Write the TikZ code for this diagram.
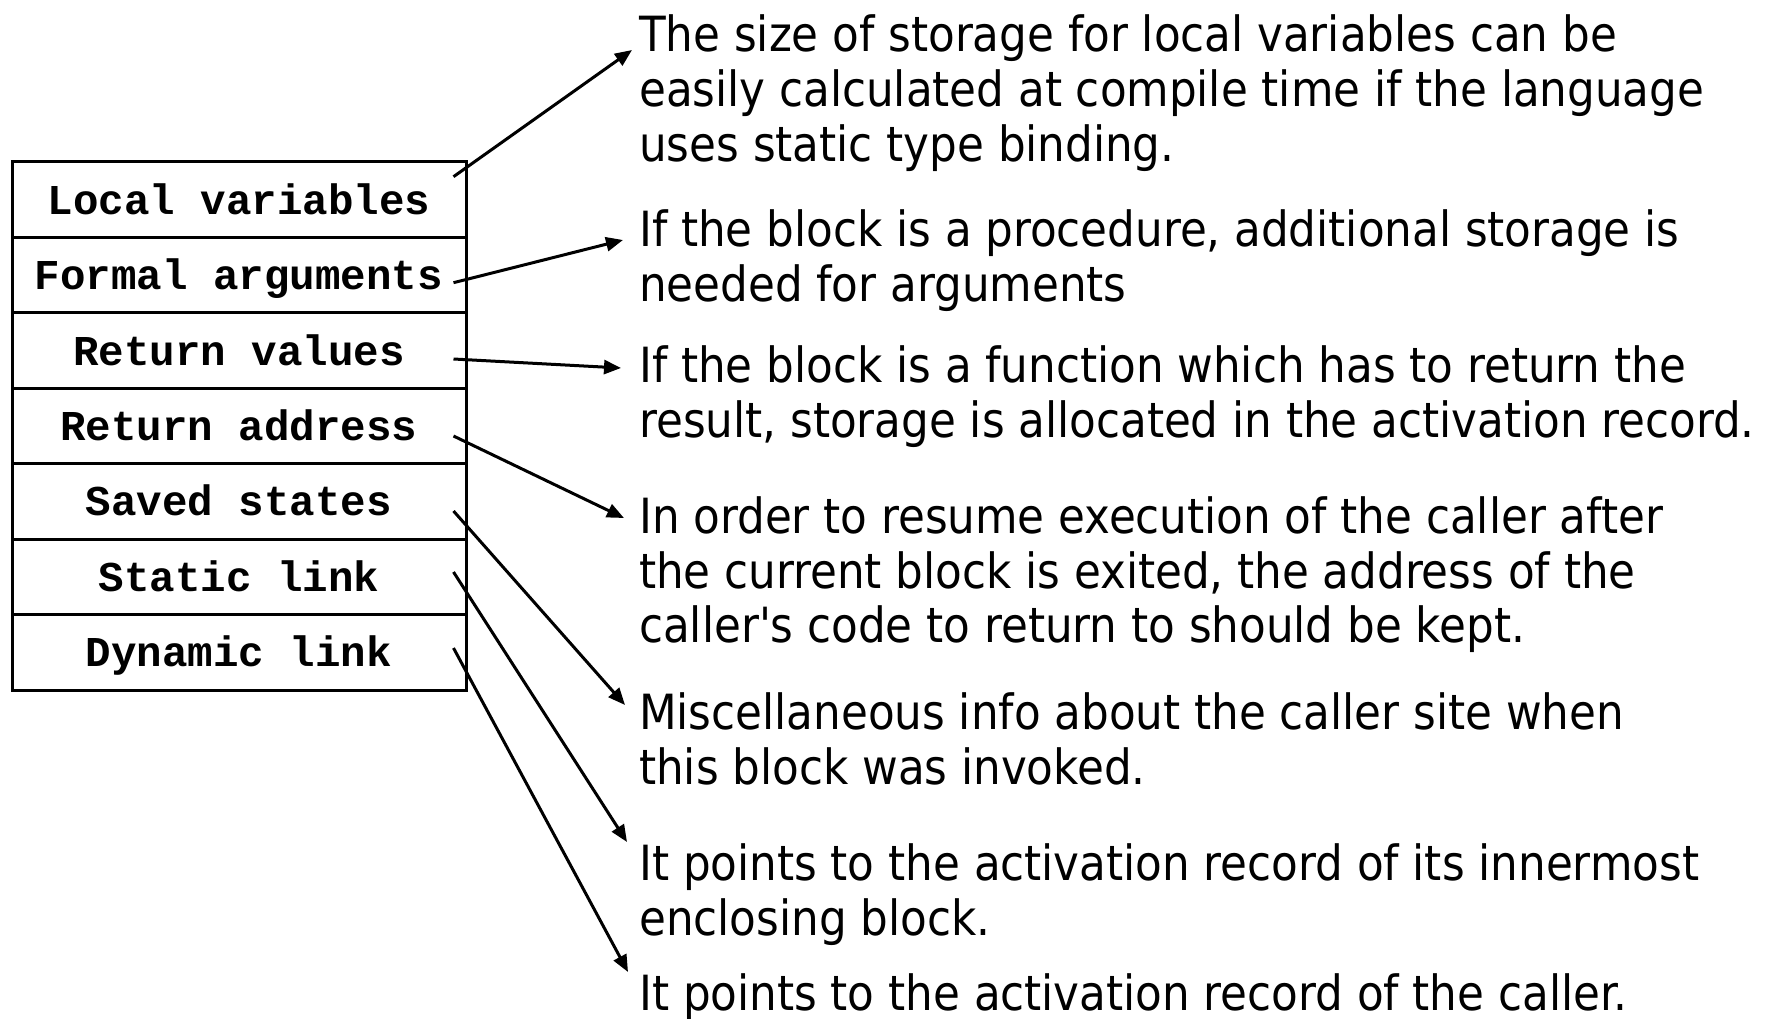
\documentclass[tikz,border=0pt]{standalone}
\usepackage{fontspec}
\setmonofont{Liberation Mono}
\newfontfamily\descfont{DejaVu Sans Condensed}
\usetikzlibrary{arrows.meta,calc}
\begin{document}
\begin{tikzpicture}[x=1pt,y=-1pt,
  field/.style={draw, line width=3pt, minimum width=454pt, minimum height=75.4pt,
    inner sep=0pt, text height=29pt, text depth=0pt,
    font=\ttfamily\bfseries\fontsize{42.5}{50}\selectfont},
  desc/.style={anchor=north west, inner sep=0pt, align=left,
    font=\descfont\fontsize{48.5}{54.7}\selectfont},
  link/.style={line width=3pt, -{Triangle[length=17pt,width=14pt]}}]
\useasboundingbox (0,0) rectangle (1767,1019);

% activation record fields
\node[field] (r1) at (239,199.7) {Local variables};
\node[field] (r2) at (239,275.1) {Formal arguments};
\node[field] (r3) at (239,350.6) {Return values};
\node[field] (r4) at (239,426.0) {Return address};
\node[field] (r5) at (239,501.4) {Saved states};
\node[field] (r6) at (239,576.9) {Static link};
\node[field] (r7) at (239,652.3) {Dynamic link};

% explanations (first baseline = y + 38.3)
\node[desc] (d1) at (639,13.5) {\strut The size of storage for local variables can be\\easily calculated at compile time if the language\\uses static type binding.};
\node[desc] (d2) at (639,208) {\strut If the block is a procedure, additional storage is\\needed for arguments};
\node[desc] (d3) at (639,344) {\strut If the block is a function which has to return the\\result, storage is allocated in the activation record.};
\node[desc] (d4) at (639,495) {\strut In order to resume execution of the caller after\\the current block is exited, the address of the\\caller's code to return to should be kept.};
\node[desc] (d5) at (639,691) {\strut Miscellaneous info about the caller site when\\this block was invoked.};
\node[desc] (d6) at (639,842) {\strut It points to the activation record of its innermost\\enclosing block.};
\node[desc] (d7) at (639,972) {\strut It points to the activation record of the caller.};

% arrow tips beside each explanation
\coordinate (e1) at (632,50);
\coordinate (e2) at (623,240);
\coordinate (e3) at (621,368);
\coordinate (e4) at (624,518);
\coordinate (e5) at (625,705);
\coordinate (e6) at (627,842);
\coordinate (e7) at (628,972);

\draw[link] ($(r1.east)+(-14,-23)$) -- (e1);
\draw[link] ($(r2.east)+(-14,7.6)$) -- (e2);
\draw[link] ($(r3.east)+(-14,8.4)$) -- (e3);
\draw[link] ($(r4.east)+(-14,10)$) -- (e4);
\draw[link] ($(r5.east)+(-14,9.6)$) -- (e5);
\draw[link] ($(r6.east)+(-14,-4.9)$) -- (e6);
\draw[link] ($(r7.east)+(-14,-4.3)$) -- (e7);
\end{tikzpicture}
\end{document}
